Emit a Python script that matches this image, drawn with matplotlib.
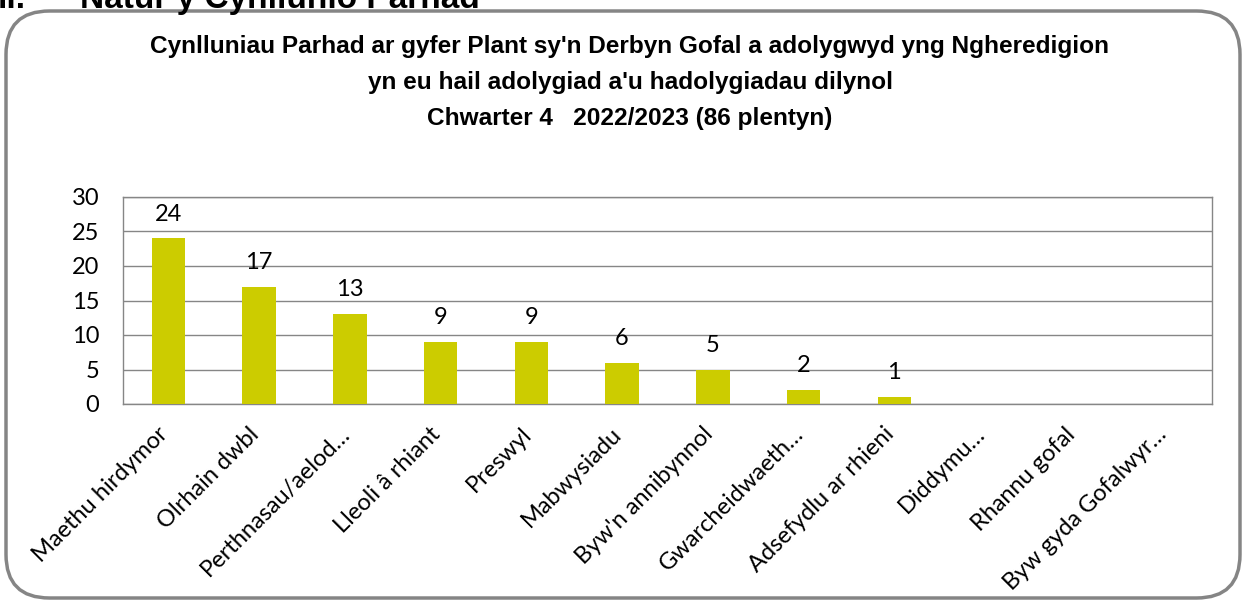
import matplotlib
matplotlib.use("Agg")
import matplotlib.pyplot as plt
from matplotlib.patches import FancyBboxPatch
from matplotlib.transforms import ScaledTranslation
import numpy as np

categories = ["Maethu hirdymor", "Olrhain dwbl", "Perthnasau/aelod…", "Lleoli â rhiant",
              "Preswyl", "Mabwysiadu", "Byw'n annibynnol", "Gwarcheidwaeth…",
              "Adsefydlu ar rhieni", "Diddymu…", "Rhannu gofal", "Byw gyda Gofalwyr…"]
values = [24, 17, 13, 9, 9, 6, 5, 2, 1, 0, 0, 0]
yticks = [0, 5, 10, 15, 20, 25, 30]
title_lines = ["Cynlluniau Parhad ar gyfer Plant sy'n Derbyn Gofal a adolygwyd yng Ngheredigion",
               "yn eu hail adolygiad a'u hadolygiadau dilynol",
               "Chwarter 4   2022/2023 (86 plentyn)"]

W, H = 1243, 601
fig = plt.figure(figsize=(W/100, H/100), dpi=100)
fig.patch.set_facecolor("white")

# rounded border
border = FancyBboxPatch((6/W, 3/H), (1234)/W, (587)/H,
                        boxstyle="round,pad=0,rounding_size=0.035",
                        transform=fig.transFigure, fill=False,
                        edgecolor="#858585", linewidth=2.5, mutation_aspect=W/H)
fig.patches.append(border)

# cut-off heading (partly above the top edge, as in the source)
fig.text(-2/W, 1 - 8/H, "ii.", fontsize=24, fontweight="bold",
         family="Liberation Sans", va="baseline", ha="left")
fig.text(80/W, 1 - 8/H, "Natur y Cynllunio Parhad", fontsize=24, fontweight="bold",
         family="Liberation Sans", va="baseline", ha="left")

for line, yp in zip(title_lines, [47, 83, 118]):
    fig.text(630/W, 1 - yp/H, line, fontsize=17.6, fontweight="bold",
             family="Liberation Sans", ha="center", va="center")

ax = fig.add_axes([123/W, 1 - 404/H, (1212 - 123)/W, (404 - 197)/H])
x = np.arange(len(categories))
ax.bar(x, values, width=0.37, color="#CCCC00", zorder=3)
ax.set_xlim(-0.5, len(categories) - 0.5)
ax.set_ylim(0, 30)
ax.set_yticks(yticks)
ax.set_yticklabels([str(v) for v in yticks], fontsize=17, family="Lato")
ax.grid(axis="y", color="#868686", linewidth=1, zorder=0)
for s in ax.spines.values():
    s.set_color("#868686")
    s.set_linewidth(1)
ax.tick_params(axis="both", length=0)
ax.tick_params(axis="y", pad=17)
ax.set_xticks(x)
ax.set_xticklabels(categories, rotation=45, ha="right", va="top", rotation_mode="anchor",
                   fontsize=17, family="Lato")
ax.tick_params(axis="x", pad=14)
shift = ScaledTranslation(-0.11, 0, fig.dpi_scale_trans)
for lbl in ax.get_xticklabels():
    lbl.set_transform(lbl.get_transform() + shift)
for xi, v in zip(x, values):
    if v > 0:
        ax.text(xi, v + 2.0, str(v), ha="center", va="bottom", fontsize=17, family="Lato")

fig.savefig("out.png", dpi=100)
